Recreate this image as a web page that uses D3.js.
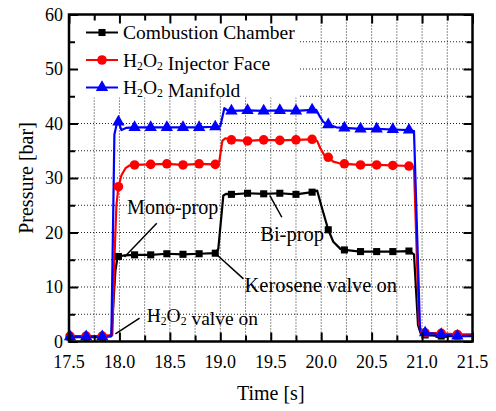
<!DOCTYPE html>
<html>
<head>
<meta charset="utf-8">
<script src="https://cdn.jsdelivr.net/npm/d3@7"></script>
<style>
  html, body { margin: 0; padding: 0; background: #fff; }
  svg { display: block; }
  text { font-family: "Liberation Serif", "Times New Roman", serif; fill: #000; }
</style>
</head>
<body>
<svg id="chart" width="496" height="411"></svg>
<script>
// ---------------- DATA ----------------
const seriesNames = ["Combustion Chamber", "H2O2 Injector Face", "H2O2 Manifold"];
const markerTimes = [17.51, 17.67, 17.83, 17.99, 18.15, 18.31, 18.47, 18.63, 18.79, 18.95,
  19.11, 19.27, 19.43, 19.59, 19.75, 19.91, 20.07, 20.23, 20.39, 20.55, 20.71, 20.87,
  21.03, 21.19, 21.35];

const chamberTime = [17.50, 17.51, 17.67, 17.83, 17.92, 17.96, 17.98, 17.99, 18.05, 18.15, 18.31, 18.47, 18.63, 18.79, 18.95,
  18.98, 19.03, 19.06, 19.11, 19.27, 19.43, 19.59, 19.75, 19.91, 19.96, 20.00, 20.07, 20.12, 20.19, 20.23,
  20.39, 20.55, 20.71, 20.87, 20.92, 20.96, 20.99, 21.03, 21.19, 21.35, 21.50];
const chamberP = [0.8, 0.8, 0.8, 0.8, 1.0, 13.0, 15.3, 15.6, 15.8, 15.9, 15.9, 16.1, 16.0, 16.1, 16.2,
  17.0, 26.8, 27.1, 27.0, 27.2, 27.1, 27.2, 27.0, 27.4, 27.7, 25.0, 20.5, 18.3, 17.0, 16.8,
  16.5, 16.5, 16.5, 16.6, 16.0, 3.0, 1.3, 1.2, 1.0, 1.0, 1.0];

const injectorTime = [17.50, 17.51, 17.67, 17.83, 17.93, 17.95, 17.97, 17.99, 18.02, 18.06, 18.10, 18.15, 18.31, 18.47, 18.63, 18.79, 18.95,
  18.99, 19.02, 19.05, 19.11, 19.27, 19.43, 19.59, 19.75, 19.91, 19.96, 19.99, 20.03, 20.07, 20.12, 20.18, 20.23,
  20.39, 20.55, 20.71, 20.87, 20.92, 20.97, 21.00, 21.03, 21.19, 21.35, 21.50];
const injectorP = [1.0, 1.0, 1.0, 1.0, 1.2, 15.0, 25.0, 28.4, 30.5, 31.8, 32.3, 32.4, 32.5, 32.6, 32.4, 32.6, 32.5,
  33.0, 36.8, 37.3, 37.0, 36.8, 37.0, 36.9, 37.0, 37.1, 36.8, 35.5, 34.2, 33.8, 33.0, 32.7, 32.6,
  32.4, 32.4, 32.3, 32.2, 32.0, 3.0, 1.8, 1.6, 1.5, 1.3, 1.3];

const manifoldTime = [17.50, 17.51, 17.67, 17.83, 17.92, 17.95, 17.98, 17.99, 18.02, 18.07, 18.15, 18.31, 18.47, 18.63, 18.79, 18.95,
  19.00, 19.04, 19.08, 19.11, 19.27, 19.43, 19.59, 19.75, 19.91, 19.95, 19.98, 20.02, 20.07, 20.15, 20.23,
  20.39, 20.55, 20.71, 20.87, 20.92, 20.98, 21.01, 21.03, 21.19, 21.35, 21.50];
const manifoldP = [0.9, 0.9, 0.9, 0.9, 1.0, 38.0, 40.5, 40.3, 38.8, 39.2, 39.3, 39.3, 39.3, 39.3, 39.3, 39.4,
  39.5, 42.8, 42.3, 42.3, 42.4, 42.3, 42.4, 42.3, 42.5, 42.5, 41.5, 40.3, 39.8, 39.3, 39.2,
  39.0, 39.0, 38.9, 38.8, 38.6, 2.0, 1.8, 1.6, 1.3, 1.0, 1.1];

const xTickValues = [17.5, 18.0, 18.5, 19.0, 19.5, 20.0, 20.5, 21.0, 21.5];
const yTickValues = [0, 10, 20, 30, 40, 50, 60];
const xTitle = "Time [s]";
const yTitle = "Pressure [bar]";

const annotationLabels = ["Mono-prop", "Bi-prop", "Kerosene valve on", "H2O2 valve on"];

// ---------------- LAYOUT / STYLE ----------------
const colors = ["#000000", "#ff0000", "#0000ff"];
const symbols = [d3.symbolSquare, d3.symbolCircle, d3.symbolTriangle];
const symbolSizes = [50, 72, 66];

const margin = { left: 69, right: 496 - 472.5, top: 14.5, bottom: 411 - 341.5 };
const W = 496, H = 411;
const svg = d3.select("#chart");

const x = d3.scaleLinear().domain([17.5, 21.5]).range([margin.left, W - margin.right]);
const y = d3.scaleLinear().domain([0, 60]).range([H - margin.bottom, margin.top]);

// grid
const gridX = d3.range(17.75, 21.5, 0.25);
const gridY = d3.range(5, 60, 5);
const grid = svg.append("g");
grid.selectAll("line.gx").data(gridX).join("line")
  .attr("x1", d => x(d)).attr("x2", d => x(d))
  .attr("y1", y(0)).attr("y2", y(60))
  .attr("stroke", "#222").attr("stroke-width", 1).attr("stroke-dasharray", "1,2");
grid.selectAll("line.gy").data(gridY).join("line")
  .attr("y1", d => y(d)).attr("y2", d => y(d))
  .attr("x1", x(17.5)).attr("x2", x(21.5))
  .attr("stroke", "#222").attr("stroke-width", 1).attr("stroke-dasharray", "1,2");

// legend background covering the grid
svg.append("rect")
  .attr("x", x(17.5)).attr("y", y(60))
  .attr("width", 229).attr("height", 83)
  .attr("fill", "#fff");

// data series
const allSeries = [
  { t: chamberTime, p: chamberP },
  { t: injectorTime, p: injectorP },
  { t: manifoldTime, p: manifoldP }
];
const line = d3.line().x(d => x(d[0])).y(d => y(d[1]));

allSeries.forEach((s, i) => {
  const pts = s.t.map((t, k) => [t, s.p[k]]);
  svg.append("path").datum(pts)
    .attr("d", line).attr("fill", "none")
    .attr("stroke", colors[i]).attr("stroke-width", 2.2)
    .attr("stroke-linejoin", "round");
});
allSeries.forEach((s, i) => {
  const pts = s.t.map((t, k) => [t, s.p[k]]).filter(d => markerTimes.includes(d[0]));
  svg.append("g").selectAll("path").data(pts).join("path")
    .attr("d", d3.symbol().type(symbols[i]).size(symbolSizes[i]))
    .attr("transform", d => `translate(${x(d[0])},${y(d[1])})`)
    .attr("fill", colors[i]);
});

// axes with inward ticks on all four sides
function addAxis(axisFn, scale, values, size, transform) {
  const g = svg.append("g").attr("transform", transform)
    .call(axisFn(scale).tickValues(values).tickSize(size).tickFormat(""));
  g.select(".domain").remove();
  g.selectAll("line").attr("stroke", "#000").attr("stroke-width", 2);
  return g;
}
const xMinor = d3.range(17.75, 21.5, 0.5);
const yMinor = d3.range(5, 60, 10);
addAxis(d3.axisTop, x, xTickValues, 9, `translate(0,${y(0)})`);
addAxis(d3.axisTop, x, xMinor, 6, `translate(0,${y(0)})`);
addAxis(d3.axisBottom, x, xTickValues, 9, `translate(0,${y(60)})`);
addAxis(d3.axisBottom, x, xMinor, 6, `translate(0,${y(60)})`);
addAxis(d3.axisRight, y, yTickValues, 9, `translate(${x(17.5)},0)`);
addAxis(d3.axisRight, y, yMinor, 6, `translate(${x(17.5)},0)`);
addAxis(d3.axisLeft, y, yTickValues, 9, `translate(${x(21.5)},0)`);
addAxis(d3.axisLeft, y, yMinor, 6, `translate(${x(21.5)},0)`);

// frame
svg.append("rect")
  .attr("x", x(17.5)).attr("y", y(60))
  .attr("width", x(21.5) - x(17.5)).attr("height", y(0) - y(60))
  .attr("fill", "none").attr("stroke", "#000").attr("stroke-width", 2.5);

// tick labels
svg.append("g").selectAll("text").data(xTickValues).join("text")
  .attr("x", d => x(d)).attr("y", y(0) + 26)
  .attr("text-anchor", "middle").attr("font-size", 18)
  .text(d => d.toFixed(1));
svg.append("g").selectAll("text").data(yTickValues).join("text")
  .attr("x", x(17.5) - 6).attr("y", d => y(d) + 6)
  .attr("text-anchor", "end").attr("font-size", 18)
  .text(d => d);

// axis titles
svg.append("text")
  .attr("x", (x(17.5) + x(21.5)) / 2).attr("y", 400)
  .attr("text-anchor", "middle").attr("font-size", 20)
  .text(xTitle);
svg.append("text")
  .attr("transform", `translate(33,${(y(0) + y(60)) / 2}) rotate(-90)`)
  .attr("text-anchor", "middle").attr("font-size", 20)
  .text(yTitle);

// helper: text with H2O2 subscripts
function richText(sel, str) {
  const parts = str.split(/(H2O2)/);
  parts.forEach(part => {
    if (part === "H2O2") {
      sel.append("tspan").text("H");
      sel.append("tspan").attr("font-size", "0.6em").attr("dy", 3).text("2");
      sel.append("tspan").attr("dy", -3).text("O");
      sel.append("tspan").attr("font-size", "0.6em").attr("dy", 3).text("2");
      sel.append("tspan").attr("dy", -3).text("");
    } else if (part.length) {
      sel.append("tspan").text(part);
    }
  });
}

// legend
const legendY = [32.5, 60, 87.5];
seriesNames.forEach((name, i) => {
  const g = svg.append("g");
  g.append("line").attr("x1", 86).attr("x2", 118)
    .attr("y1", legendY[i]).attr("y2", legendY[i])
    .attr("stroke", colors[i]).attr("stroke-width", 2);
  g.append("path")
    .attr("d", d3.symbol().type(symbols[i]).size(symbolSizes[i]))
    .attr("transform", `translate(102,${legendY[i]})`)
    .attr("fill", colors[i]);
  const t = g.append("text").attr("x", 123).attr("y", legendY[i] + 6.5).attr("font-size", 19.5);
  richText(t, name);
});

// annotations (anchors in data units)
const annotations = [
  { text: annotationLabels[0], tx: 18.076, ty: 23.4, from: [18.37, 21.7], to: [18.05, 15.5], size: 20 },
  { text: annotationLabels[1], tx: 19.396, ty: 18.35, from: [19.61, 22.8], to: [19.49, 26.8], size: 20.5 },
  { text: annotationLabels[2], tx: 19.24, ty: 9.15, from: [19.23, 11.5], to: [18.96, 16.0], size: 20.5 },
  { text: annotationLabels[3], tx: 18.27, ty: 3.6, from: [18.2, 4.3], to: [17.96, 1.4], size: 19.5 }
];
annotations.forEach(a => {
  svg.append("line")
    .attr("x1", x(a.from[0])).attr("y1", y(a.from[1]))
    .attr("x2", x(a.to[0])).attr("y2", y(a.to[1]))
    .attr("stroke", "#000").attr("stroke-width", 1.5);
  const t = svg.append("text").attr("x", x(a.tx)).attr("y", y(a.ty)).attr("font-size", a.size);
  richText(t, a.text);
});
</script>
</body>
</html>
